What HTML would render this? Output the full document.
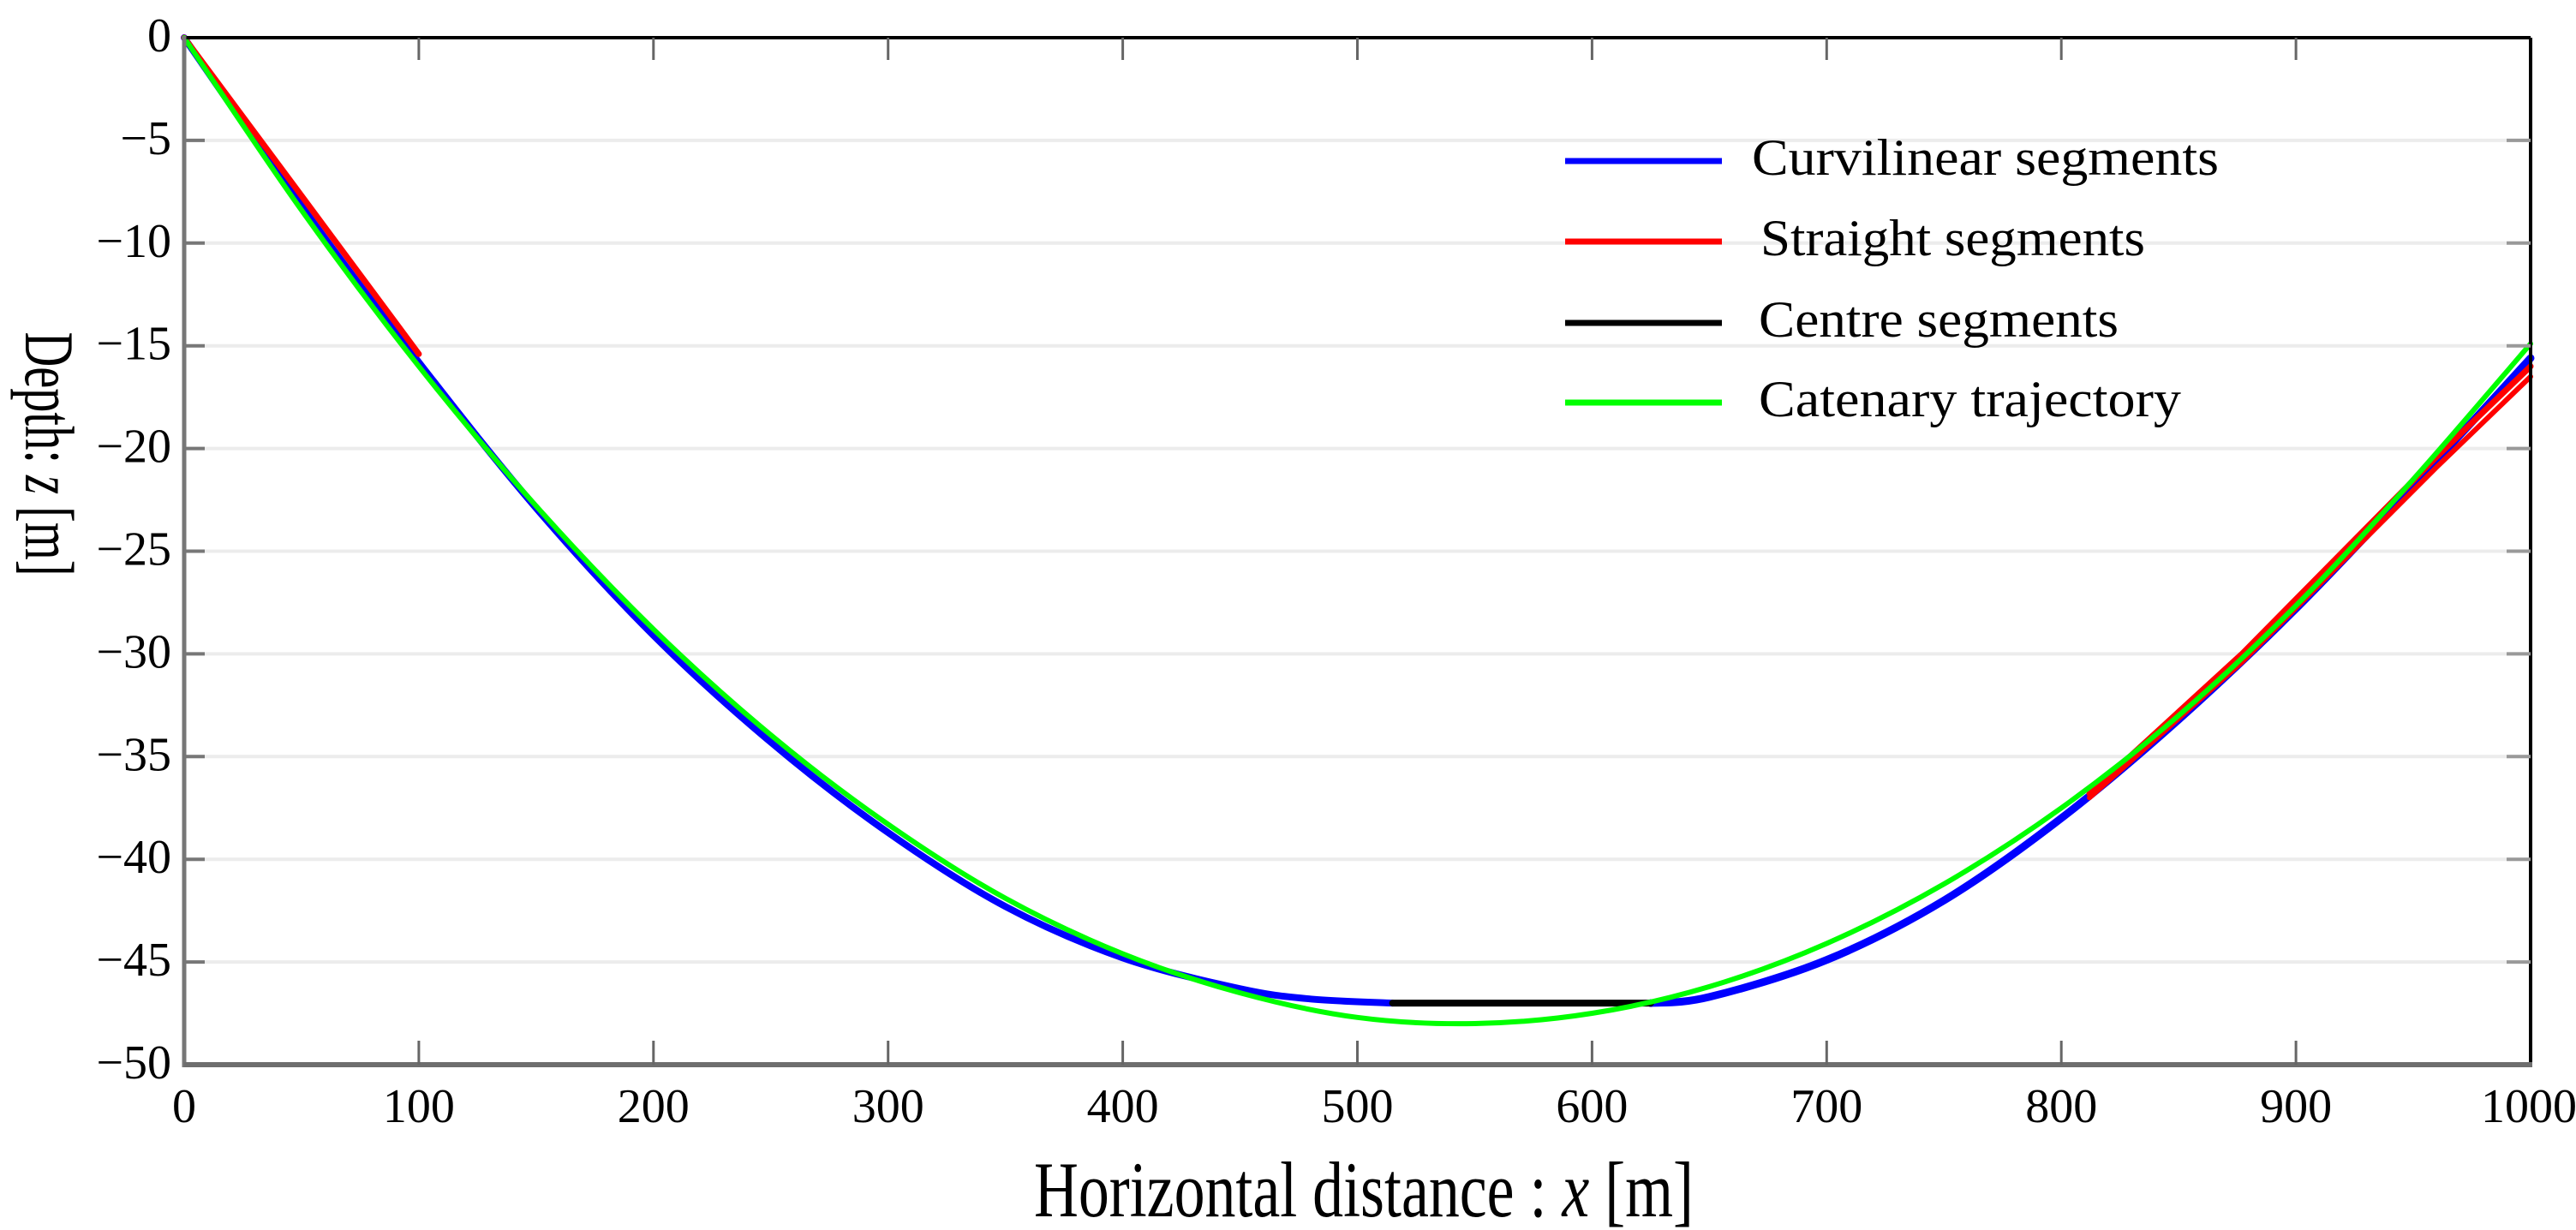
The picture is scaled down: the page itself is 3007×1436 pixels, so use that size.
<!DOCTYPE html>
<html><head><meta charset="utf-8"><title>Catenary trajectory chart</title>
<style>
html,body{margin:0;padding:0;background:#fff;}
svg{display:block;font-family:"Liberation Serif","Times New Roman",serif;}
</style></head>
<body>
<svg id="chart" width="3007" height="1436" viewBox="0 0 3007 1436" xmlns="http://www.w3.org/2000/svg">
<rect x="0" y="0" width="3007" height="1436" fill="#fff"/>
<g id="grid"></g>
<g id="series"></g>
<g id="axes"></g>
<text x="30" y="530" transform="rotate(90 30 530)" text-anchor="middle" font-size="82" textLength="285" lengthAdjust="spacingAndGlyphs" fill="#000">Depth: <tspan font-style="italic">z</tspan> [m]</text>
<text x="1592" y="1420" text-anchor="middle" font-size="92" textLength="770" lengthAdjust="spacingAndGlyphs" fill="#000">Horizontal distance : <tspan font-style="italic">x</tspan> [m]</text>
<g id="legend"></g>
</svg>
<script>
const xTicks = [0,100,200,300,400,500,600,700,800,900,1000];
const yTicks = [0,-5,-10,-15,-20,-25,-30,-35,-40,-45,-50];
const yTickLabels = ["0","\u22125","\u221210","\u221215","\u221220","\u221225","\u221230","\u221235","\u221240","\u221245","\u221250"];

const catX = [0,50,100,150,200,250,300,350,400,450,500,550,600,650,700,750,800,850,900,950,1000];
const catZ = [0,-8.4,-16.0,-22.8,-28.8,-33.95,-38.3,-41.9,-44.6,-46.5,-47.7,-48.0,-47.5,-46.2,-44.1,-41.2,-37.5,-33.0,-27.65,-21.5,-14.9];

const curvLeftX = [0,50,100,150,200,250,300,350,400,450,480,515];
const curvLeftZ = [0,-8.2,-15.8,-22.9,-29.1,-34.3,-38.7,-42.3,-44.8,-46.3,-46.8,-47.0];
const curvRightX = [625,650,700,750,800,850,900,950,1000];
const curvRightZ = [-47.0,-46.7,-44.9,-42.0,-38.0,-33.2,-27.8,-21.8,-15.6];

const centreX = [515,625];
const centreZ = [-47.0,-47.0];

const straightLeftX = [0,50,100];
const straightLeftZ = [0,-7.7,-15.4];
const straightRightX = [812,877,960,1000];
const straightRightZ = [-36.8,-30.0,-20.4,-16.0];
const straightRight2X = [812,877,960,1000];
const straightRight2Z = [-37.0,-30.4,-20.9,-16.5];

const legendLabels = ["Curvilinear segments","Straight segments","Centre segments","Catenary trajectory"];
const legendColors = ["#0000ff","#ff0000","#000000","#00ff00"];

const NS = "http://www.w3.org/2000/svg";
const L = 215, R = 2954, T = 44, B = 1243;
function sx(v){ return L + (v - 0) / 1000 * (R - L); }
function sy(v){ return T + (0 - v) / 50 * (B - T); }

function mk(tag, attrs, parent){
  const e = document.createElementNS(NS, tag);
  for (const k in attrs) e.setAttribute(k, attrs[k]);
  parent.appendChild(e);
  return e;
}

const grid = document.getElementById('grid');
yTicks.forEach((v,i)=>{
  if (v === 0 || v === -50) return;
  const g = mk('line',{x1:L,x2:R,y1:sy(v),y2:sy(v),stroke:'#ececec','stroke-width':4},grid);
  
  
});

const series = document.getElementById('series');
function path(xs, zs, color, w, name){
  let d = '';
  xs.forEach((x,i)=>{ d += (i? ' L':'M') + sx(x).toFixed(1) + ' ' + sy(zs[i]).toFixed(1); });
  const p = mk('path',{d:d,fill:'none',stroke:color,'stroke-width':w,'stroke-linejoin':'round','stroke-linecap':'round'},series);
  
  
  return p;
}
function smooth(xs, zs, color, w, name){
  const pts = xs.map((x,i)=>[sx(x), sy(zs[i])]);
  let d = 'M' + pts[0][0].toFixed(1) + ' ' + pts[0][1].toFixed(1);
  for (let i=0;i<pts.length-1;i++){
    const p0 = pts[Math.max(i-1,0)], p1 = pts[i], p2 = pts[i+1], p3 = pts[Math.min(i+2,pts.length-1)];
    const c1 = [p1[0]+(p2[0]-p0[0])/6, p1[1]+(p2[1]-p0[1])/6];
    const c2 = [p2[0]-(p3[0]-p1[0])/6, p2[1]-(p3[1]-p1[1])/6];
    d += ' C'+c1[0].toFixed(1)+' '+c1[1].toFixed(1)+' '+c2[0].toFixed(1)+' '+c2[1].toFixed(1)+' '+p2[0].toFixed(1)+' '+p2[1].toFixed(1);
  }
  const p = mk('path',{d:d,fill:'none',stroke:color,'stroke-width':w,'stroke-linejoin':'round','stroke-linecap':'round'},series);
  
  
  return p;
}
smooth(curvLeftX, curvLeftZ, '#0000ff', 8, 'curvilinear-left-line');
smooth(curvRightX, curvRightZ, '#0000ff', 9, 'curvilinear-right-line');
path(centreX, centreZ, '#000000', 8, 'centre-segment-line');
path(straightLeftX, straightLeftZ, '#ff0000', 7, 'straight-left-line');
path(straightRightX, straightRightZ, '#ff0000', 7, 'straight-right-line');
path(straightRight2X, straightRight2Z, '#ff0000', 6, 'straight-right-line-2');
smooth(catX, catZ, '#00ff00', 6, 'catenary-line');

const axes = document.getElementById('axes');
let a;
a = mk('line',{x1:L,x2:R,y1:T,y2:T,stroke:'#000','stroke-width':4},axes);
 
a = mk('line',{x1:R,x2:R,y1:T,y2:B,stroke:'#000','stroke-width':4},axes);
 
a = mk('line',{x1:L,x2:L,y1:T-2,y2:B+3,stroke:'#777','stroke-width':5},axes);
 
a = mk('line',{x1:L,x2:R+2,y1:B,y2:B,stroke:'#6e6e6e','stroke-width':6},axes);
 

xTicks.forEach((v,i)=>{
  const x = sx(v);
  if (i>0 && i<xTicks.length-1){
    const t1 = mk('line',{x1:x,x2:x,y1:B,y2:B-28,stroke:'#666','stroke-width':3},axes);
     
    const t2 = mk('line',{x1:x,x2:x,y1:T,y2:T+26,stroke:'#666','stroke-width':3},axes);
     
  }
  const lb = mk('text',{x:(i===xTicks.length-1? x-2 : x),y:1310,'text-anchor':'middle','font-size':56,fill:'#000'},axes);
  lb.textContent = String(v);
   
});
yTicks.forEach((v,i)=>{
  const y = sy(v);
  if (i>0 && i<yTicks.length-1){
    const t1 = mk('line',{x1:L,x2:L+24,y1:y,y2:y,stroke:'#777','stroke-width':4},axes);
     
    const t2 = mk('line',{x1:R,x2:R-28,y1:y,y2:y,stroke:'#999','stroke-width':4},axes);
     
  }
  const lb = mk('text',{x:200,y:y+16,'text-anchor':'end','font-size':56,fill:'#000'},axes);
  lb.textContent = yTickLabels[i];
   
});

const legend = document.getElementById('legend');
const legY = [188, 282, 377, 470];
const legTextX = [2045, 2055, 2053, 2053];
const legTextLen = [545, 449, 420, 493];
legendLabels.forEach((lab,i)=>{
  const ln = mk('line',{x1:1827,x2:2010,y1:legY[i],y2:legY[i],stroke:legendColors[i],'stroke-width':7},legend);
   
  const tx = mk('text',{x:legTextX[i],y:legY[i]+16,'font-size':60,fill:'#000',textLength:legTextLen[i],lengthAdjust:'spacingAndGlyphs'},legend);
  tx.textContent = lab;
   
});
</script>
</body></html>
